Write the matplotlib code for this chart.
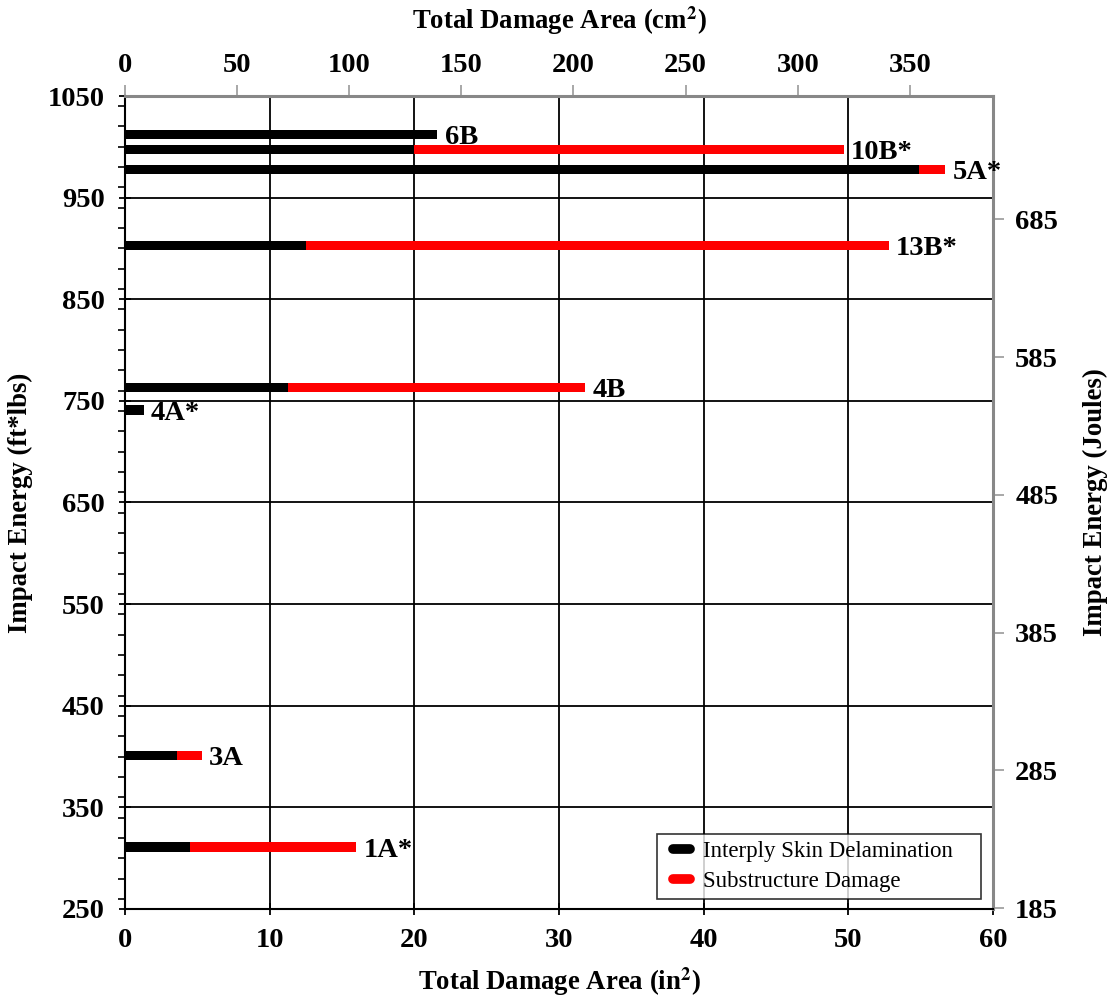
import matplotlib
matplotlib.use("Agg")
import matplotlib.pyplot as plt
from matplotlib.lines import Line2D
from matplotlib.legend_handler import HandlerBase
from matplotlib.ticker import MultipleLocator, FixedLocator

# Specimen data: impact energy (ft*lbs) and damage areas (in^2)
specimens = ["6B", "10B*", "5A*", "13B*", "4B", "4A*", "3A", "1A*"]
impact_energy = [1012, 997, 978, 903, 763, 741, 401, 311]
skin_delam = [21.6, 20.0, 54.9, 12.5, 11.3, 1.3, 3.6, 4.5]
total_damage = [21.6, 49.7, 56.7, 52.8, 31.8, 1.3, 5.3, 16.0]

substructure = [t - s for t, s in zip(total_damage, skin_delam)]

IN2_TO_CM2 = 6.4516
FTLB_TO_J = 0.7376

plt.rcParams["font.family"] = ["Liberation Serif", "DejaVu Serif"]
plt.rcParams["mathtext.fontset"] = "stix"

TICK_FS = 20.5
LABEL_FS = 19.3


class PillHandler(HandlerBase):
    """Short thick rounded line, inset from the left of the handle box."""

    def create_artists(self, legend, orig_handle, xdescent, ydescent,
                       width, height, fontsize, trans):
        y = height / 2 - ydescent
        line = Line2D([width * 0.32 - xdescent, width * 0.88 - xdescent], [y, y],
                      color=orig_handle.get_color(), linewidth=7,
                      solid_capstyle="round", transform=trans)
        return [line]


fig = plt.figure(figsize=(11.12, 9.99), dpi=100)
ax = fig.add_axes([125 / 1112, 1 - 909 / 999, (993 - 125) / 1112, (909 - 96) / 999])

bar_h = 9
ax.barh(impact_energy, skin_delam, height=bar_h, color="black", zorder=3)
ax.barh(impact_energy, substructure, left=skin_delam, height=bar_h,
        color="#ff0000", zorder=3)

for name, e, tot in zip(specimens, impact_energy, total_damage):
    ax.text(tot + 0.5, e - 3, name, fontsize=TICK_FS, fontweight="bold",
            va="center", ha="left", zorder=4)

ax.set_xlim(0, 60)
ax.set_ylim(250, 1050)
ax.xaxis.set_major_locator(MultipleLocator(10))
ax.set_yticks(range(250, 1051, 100))
ax.yaxis.set_minor_locator(MultipleLocator(20))
ax.grid(True, which="major", color="black", linewidth=1.3, zorder=1)
ax.set_axisbelow(True)

ax.tick_params(axis="both", which="major", direction="inout", length=9,
               width=1.3, labelsize=TICK_FS)
ax.tick_params(axis="x", which="major", pad=9)
ax.tick_params(axis="y", which="major", pad=10)
ax.tick_params(axis="y", which="minor", direction="out", length=5, width=1.2)
for lbl in ax.get_xticklabels() + ax.get_yticklabels():
    lbl.set_fontweight("bold")

for side in ("left", "bottom"):
    ax.spines[side].set_linewidth(1.5)
    ax.spines[side].set_color("black")
for side in ("top", "right"):
    ax.spines[side].set_linewidth(2.2)
    ax.spines[side].set_color("#888888")

ax.set_xlabel("Total Damage Area (in$^\\mathbf{2}$)", fontsize=LABEL_FS,
              fontweight="bold", labelpad=9)
ax.set_ylabel("Impact Energy (ft*lbs)", fontsize=LABEL_FS, fontweight="bold",
              labelpad=11)

# Secondary axes in metric units
top = ax.secondary_xaxis("top", functions=(lambda x: x * IN2_TO_CM2,
                                           lambda x: x / IN2_TO_CM2))
top.xaxis.set_major_locator(FixedLocator(range(0, 351, 50)))
top.tick_params(direction="out", length=8, width=1.2, color="#999999",
                labelsize=TICK_FS, pad=5)
top.spines["top"].set_visible(False)
for lbl in top.get_xticklabels():
    lbl.set_fontweight("bold")
top.set_xlabel("Total Damage Area (cm$^\\mathbf{2}$)", fontsize=LABEL_FS,
               fontweight="bold", labelpad=17)

right = ax.secondary_yaxis("right", functions=(lambda y: y * FTLB_TO_J,
                                               lambda y: y / FTLB_TO_J))
right.yaxis.set_major_locator(FixedLocator(range(185, 686, 100)))
right.tick_params(direction="out", length=8, width=1.2, color="#999999",
                  labelsize=TICK_FS, pad=8)
right.spines["right"].set_visible(False)
for lbl in right.get_yticklabels():
    lbl.set_fontweight("bold")
right.set_ylabel("Impact Energy (Joules)", fontsize=LABEL_FS, fontweight="bold",
                 labelpad=18)

handles = [Line2D([], [], color="black"), Line2D([], [], color="#ff0000")]
leg = ax.legend(handles, ["Interply Skin Delamination", "Substructure Damage"],
                loc="lower left", mode="expand",
                bbox_to_anchor=((657 - 125) / 868, (909 - 899) / 813,
                                324 / 868, 0.05),
                borderaxespad=0, fontsize=16.5, frameon=True, fancybox=False,
                handlelength=1.31, borderpad=0.3, labelspacing=0.38,
                handletextpad=0.4,
                handler_map={Line2D: PillHandler()})
leg.get_frame().set_edgecolor("black")
leg.get_frame().set_linewidth(1.2)
leg.set_zorder(5)

fig.savefig("out.png", dpi=100, facecolor="white")
